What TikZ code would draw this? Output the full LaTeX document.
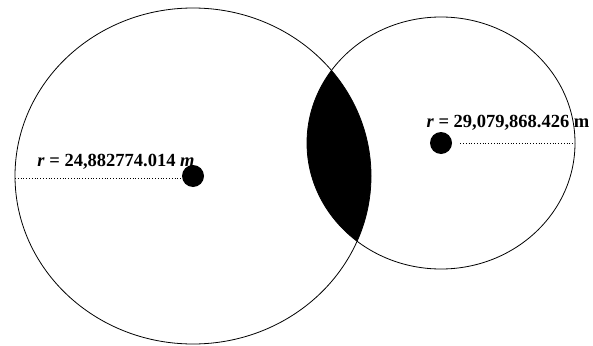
\documentclass[tikz,border=0pt]{standalone}
\usepackage{fontspec}
\setmainfont{Liberation Serif}
\usetikzlibrary{calc}
\tikzset{
  orbit/.style={draw=black, line width=0.8pt},
  dotmark/.style={circle, fill=black, inner sep=0pt, minimum size=22pt},
  radline/.style={draw=black, dotted, line width=0.8pt},
  lbl/.style={font=\fontsize{18.5}{20}\selectfont\bfseries, inner sep=0pt}
}
\begin{document}
\begin{tikzpicture}[x=1pt,y=-1pt]
\useasboundingbox (0,0) rectangle (593,345);
\fill[white] (0,0) rectangle (593,345);
% lens
\begin{scope}
  \clip (193,176) ellipse [x radius=178, y radius=168];
  \fill[black] (441,143) ellipse [x radius=134, y radius=126];
\end{scope}
\path[orbit] (193,176) ellipse [x radius=178, y radius=168];
\path[orbit] (441,143) ellipse [x radius=134, y radius=126];
% centres
\node[dotmark] (d1) at (193,176) {};
\node[dotmark] (d2) at (441,143) {};
\coordinate (e1) at (15,178);
\coordinate (e2) at (575,143);
\draw[radline] (e1) -- (d1.west |- e1);
\draw[radline] (d2.east) ++(8,0) coordinate (s2) (s2) -- (e2);
\node[lbl, anchor=base] (l1) at (116,166) {\textit{r} = 24,882774.014 \textit{m}};
\node[lbl, anchor=base] (l2) at (508,127) {\textit{r} = 29,079,868.426 m};
\end{tikzpicture}
\end{document}
